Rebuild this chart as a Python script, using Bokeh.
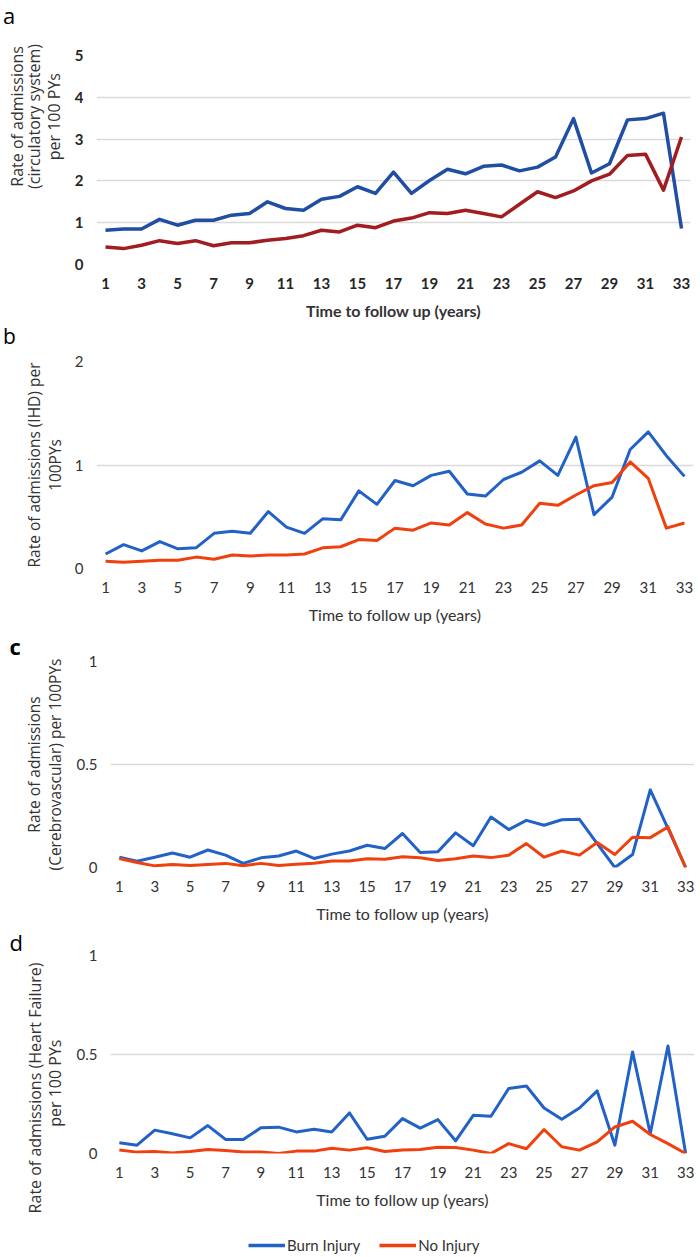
from bokeh.plotting import figure
from bokeh.layouts import column
from bokeh.models import (FixedTicker, NumeralTickFormatter, Title, Legend,
                          LegendItem, Range1d, Div)
from bokeh.embed import file_html
from bokeh.resources import INLINE

years = list(range(1, 34))
x_ticks = list(range(1, 34, 2))

circ_burn = [0.82, 0.85, 0.85, 1.08, 0.94, 1.06, 1.06, 1.18, 1.22, 1.50, 1.34,
             1.30, 1.56, 1.63, 1.86, 1.70, 2.21, 1.70, 2.01, 2.28, 2.17, 2.35,
             2.38, 2.24, 2.33, 2.57, 3.49, 2.19, 2.41, 3.46, 3.49, 3.62, 0.86]
circ_none = [0.42, 0.38, 0.46, 0.57, 0.50, 0.57, 0.45, 0.52, 0.52, 0.58, 0.62,
             0.69, 0.82, 0.78, 0.94, 0.88, 1.04, 1.11, 1.24, 1.22, 1.30, 1.22,
             1.14, 1.44, 1.74, 1.60, 1.76, 2.00, 2.16, 2.61, 2.64, 1.78, 3.05]

ihd_burn = [0.14, 0.23, 0.17, 0.26, 0.19, 0.20, 0.34, 0.36, 0.34, 0.55, 0.40,
            0.34, 0.48, 0.47, 0.75, 0.62, 0.85, 0.80, 0.90, 0.94, 0.72, 0.70,
            0.86, 0.93, 1.04, 0.90, 1.27, 0.52, 0.69, 1.15, 1.32, 1.09, 0.89]
ihd_none = [0.07, 0.06, 0.07, 0.08, 0.08, 0.11, 0.09, 0.13, 0.12, 0.13, 0.13,
            0.14, 0.20, 0.21, 0.28, 0.27, 0.39, 0.37, 0.44, 0.42, 0.54, 0.43,
            0.39, 0.42, 0.63, 0.61, 0.71, 0.80, 0.83, 1.03, 0.87, 0.39, 0.44]

cereb_burn = [0.050, 0.030, 0.050, 0.070, 0.050, 0.085, 0.060, 0.020, 0.047,
              0.056, 0.080, 0.044, 0.065, 0.080, 0.108, 0.092, 0.165, 0.073,
              0.076, 0.168, 0.106, 0.245, 0.184, 0.229, 0.205, 0.232, 0.234,
              0.116, 0.000, 0.063, 0.377, 0.190, 0.000]
cereb_none = [0.044, 0.024, 0.008, 0.015, 0.010, 0.015, 0.020, 0.008, 0.020,
              0.010, 0.016, 0.021, 0.032, 0.032, 0.042, 0.040, 0.052, 0.047,
              0.034, 0.042, 0.056, 0.048, 0.060, 0.116, 0.050, 0.080, 0.060,
              0.121, 0.063, 0.147, 0.145, 0.197, 0.000]

hf_burn = [0.054, 0.042, 0.118, 0.100, 0.079, 0.141, 0.071, 0.071, 0.130,
           0.133, 0.109, 0.123, 0.109, 0.205, 0.072, 0.087, 0.176, 0.128,
           0.171, 0.064, 0.193, 0.188, 0.328, 0.341, 0.230, 0.173, 0.230,
           0.316, 0.042, 0.513, 0.100, 0.543, 0.000]
hf_none = [0.018, 0.007, 0.010, 0.003, 0.010, 0.020, 0.015, 0.008, 0.008,
           0.000, 0.012, 0.012, 0.027, 0.017, 0.029, 0.010, 0.018, 0.020,
           0.032, 0.030, 0.017, 0.000, 0.050, 0.024, 0.121, 0.034, 0.017,
           0.059, 0.134, 0.163, 0.096, 0.050, 0.000]

series_names = ["Burn Injury", "No Injury"]
x_title = "Time to follow up (years)"

FONT = "Open Sans"
TFONT = "Lato"
FIG_W = 700
ASC, DESC = 1.069, 0.293   # Open Sans vertical metrics (em)


def stack_standoffs(edge, h, centers):
    """Standoffs so that stacked left titles are centred at given x."""
    out, right = [], edge
    for c in centers:
        s = 2 * (right - h / 2 - c)
        out.append(s)
        right -= 2 + h + s
    return out


def make_panel(top, bottom, fl, ft, fr, fb, ymax, yticks, burn, none,
               c_burn, c_none, lw, ylines, yfs, label_w, heavy, letter=None):
    p = figure(width=FIG_W, height=bottom - top,
               x_range=Range1d(0.5, 33.5), y_range=Range1d(0, ymax),
               output_backend="svg", toolbar_location=None,
               min_border_left=fl, min_border_right=FIG_W - fr,
               min_border_top=ft - top, min_border_bottom=bottom - fb)
    p.frame_align = False
    p.outline_line_color = None
    p.background_fill_color = "white"
    p.border_fill_color = "white"

    p.xaxis.ticker = FixedTicker(ticks=x_ticks)
    p.yaxis.ticker = FixedTicker(ticks=yticks)
    p.yaxis.formatter = NumeralTickFormatter(format="0.[0]")
    for ax in (p.xaxis[0], p.yaxis[0]):
        ax.axis_line_color = None
        ax.major_tick_line_color = None
        ax.minor_tick_line_color = None
        ax.major_tick_out = 0
        ax.major_tick_in = 0
        ax.minor_tick_out = 0
        ax.minor_tick_in = 0
        ax.major_label_text_font = TFONT
        ax.major_label_text_font_size = "15px"
        ax.major_label_text_color = "#262626" if heavy else "#333333"
        ax.major_label_text_font_style = "bold" if heavy else "normal"
    p.xaxis.major_label_standoff = 13
    p.yaxis.major_label_standoff = 13
    p.xaxis.axis_label = x_title
    p.xaxis.axis_label_text_font = TFONT
    p.xaxis.axis_label_text_font_size = "16px"
    p.xaxis.axis_label_text_font_style = "bold" if heavy else "normal"
    p.xaxis.axis_label_text_color = "#333333"
    p.xaxis.axis_label_standoff = 9
    p.xgrid.visible = False
    p.ygrid.grid_line_color = "#d9d9d9"
    p.ygrid.grid_line_width = 1.3

    r1 = p.line(years, burn, line_color=c_burn, line_width=lw,
                line_join="round")
    r2 = p.line(years, none, line_color=c_none, line_width=lw,
                line_join="round")

    # y-axis title lines: (text, x-centre, y-centre or None, est. length)
    h = (ASC + DESC) * yfs
    edge = fl - 13 - label_w
    stands = stack_standoffs(edge, h, [ln[1] for ln in ylines])
    for (text, cx, cy, length), s in zip(ylines, stands):
        if cy is None:
            kw = dict(align="center")
        else:
            kw = dict(align="right", offset=cy - ft - length / 2)
        p.add_layout(Title(text=text, standoff=s, text_font=FONT,
                           text_font_size=f"{yfs}px",
                           text_font_style="normal", text_color="#333333",
                           **kw), "left")
    if letter is not None:
        lt, lfs, lstand, lbold = letter
        p.add_layout(Title(text=lt, align="left", offset=9 - fl,
                           standoff=lstand, text_font=FONT,
                           text_font_size=f"{lfs}px",
                           text_font_style="bold" if lbold else "normal",
                           text_color="#000000"), "above")
    return p, r1, r2


def letter_div(text, height, fs):
    lh = (ASC + DESC) * fs
    return Div(text=text, width=FIG_W, height=height, margin=0,
               styles={"font-family": FONT, "font-size": f"{fs}px",
                       "line-height": f"{lh:.1f}px", "padding-left": "3px",
                       "color": "#000000"})


BLUE_A, RED_A = "#1f4ea3", "#a11d21"
BLUE, RED = "#2261c6", "#f0400e"

da = letter_div("a", 30, 22)
pa, _, _ = make_panel(30, 322, 96, 55, 690, 264, 5, [0, 1, 2, 3, 4, 5],
                      circ_burn, circ_none, BLUE_A, RED_A, 3.5,
                      [("per 100 PYs", 57, 116, 87),
                       ("(circulatory system)", 37, 116, 145),
                       ("Rate of admissions", 20.5, 116, 141)], 16, 8.7, True)
db = letter_div("b", 29, 21)
pb, _, _ = make_panel(351, 628, 96, 361, 693, 568, 2, [0, 1, 2],
                      ihd_burn, ihd_none, BLUE, RED, 3,
                      [("100PYs", 58, None, 0),
                       ("Rate of admissions (IHD) per", 38, None, 0)],
                      15.5, 8.7, False)
pc, _, _ = make_panel(628, 926, 110, 661, 694, 867, 1, [0, 0.5, 1],
                      cereb_burn, cereb_none, BLUE, RED, 3,
                      [("(Cerebrovascular) per 100PYs", 58, None, 0),
                       ("Rate of admissions", 38, None, 0)], 15.5, 20.9,
                      False, letter=("c", 22, 1, True))
pd, _, _ = make_panel(926, 1222, 110, 955, 694, 1153, 1, [0, 0.5, 1],
                      hf_burn, hf_none, BLUE, RED, 3,
                      [("per 100 PYs", 58, 1082, 86),
                       ("Rate of admissions (Heart Failure)", 38, 1082, 240)],
                      16, 20.9, False, letter=("d", 22, -3, False))

# legend strip (the series are drawn outside its visible range)
pe = figure(width=FIG_W, height=35, x_range=Range1d(100, 101),
            y_range=Range1d(100, 101), output_backend="svg",
            toolbar_location=None, x_axis_location=None, y_axis_location=None,
            min_border=0)
pe.frame_align = False
pe.outline_line_color = None
pe.grid.visible = False
rb = pe.line(years, hf_burn, line_color=BLUE, line_width=3.5)
rn = pe.line(years, hf_none, line_color=RED, line_width=3.5)
legend = Legend(items=[LegendItem(label=series_names[0], renderers=[rb]),
                       LegendItem(label=series_names[1], renderers=[rn])],
                location=(248, 3), orientation="horizontal",
                glyph_width=37, glyph_height=16, label_height=16,
                label_standoff=2, spacing=19, padding=0, margin=0,
                border_line_color=None, background_fill_alpha=0,
                label_text_font=TFONT, label_text_font_size="15px",
                label_text_color="#333333")
pe.add_layout(legend)

layout = column(da, pa, db, pb, pc, pd, pe, spacing=0)
open("out.html", "w").write(file_html(layout, INLINE))
